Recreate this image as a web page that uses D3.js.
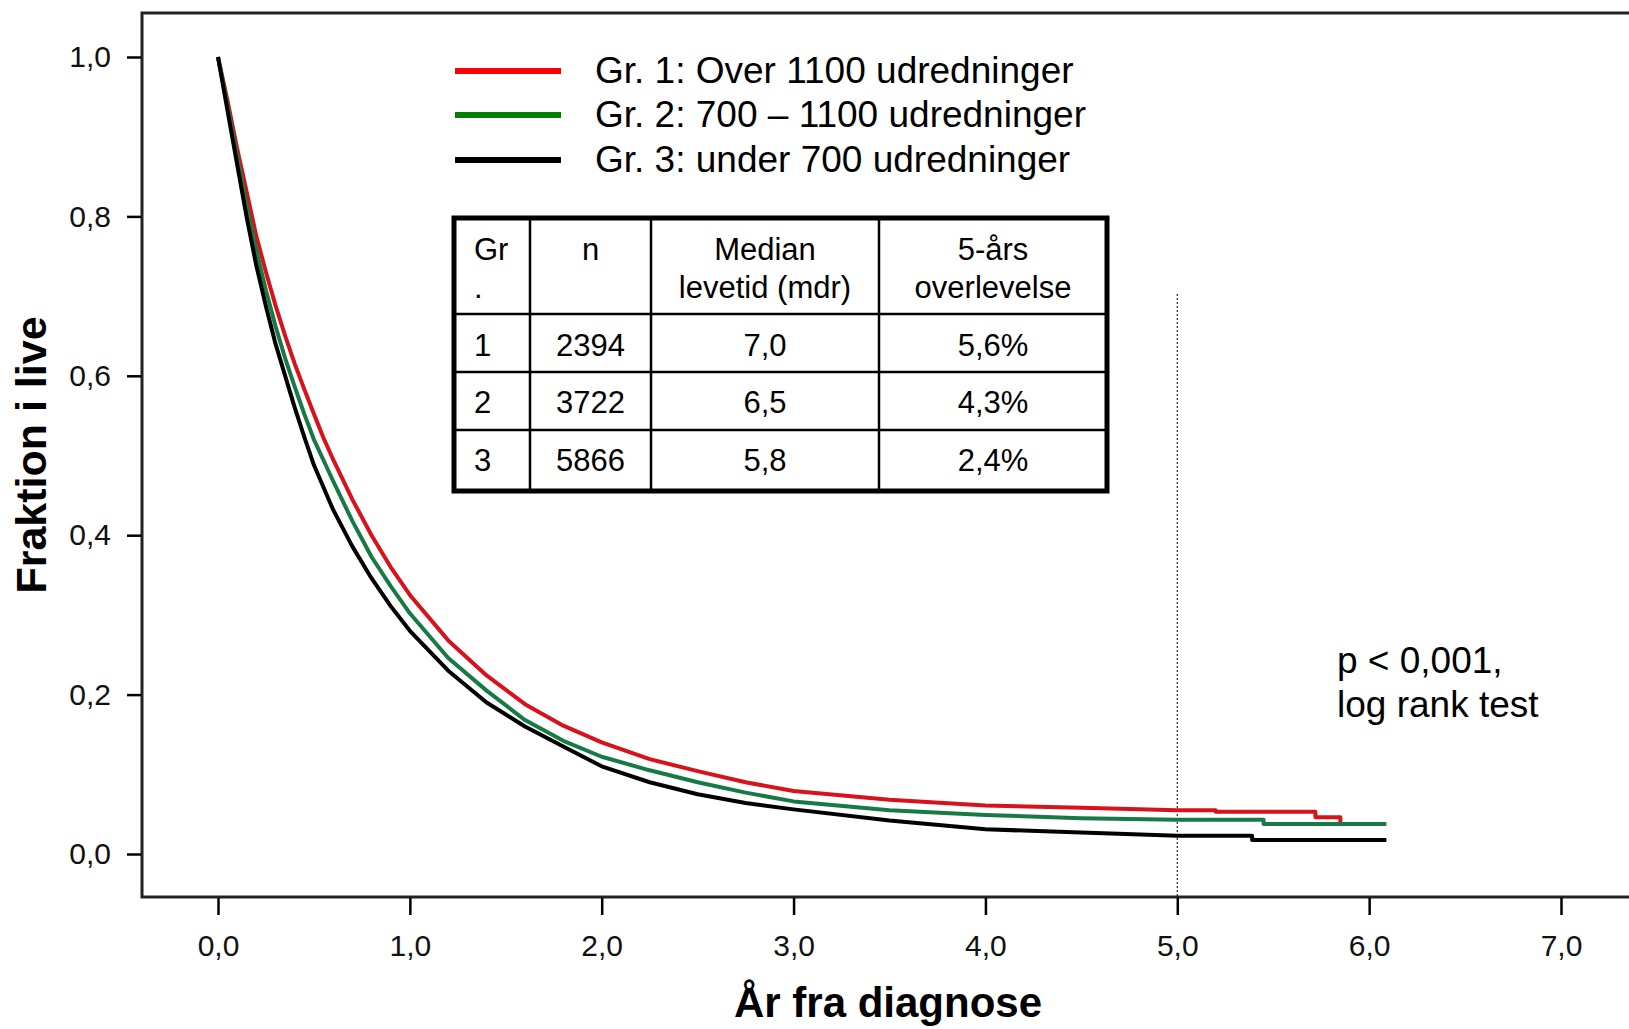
<!DOCTYPE html>
<html>
<head>
<meta charset="utf-8">
<script src="https://cdn.jsdelivr.net/npm/d3@7"></script>
<style>
  body { margin: 0; background: #fff; }
  text { font-family: "Liberation Sans", Arial, sans-serif; }
</style>
</head>
<body>
<div id="chart"></div>
<script>
// Data
const years = [0, 1, 2, 3, 4, 5, 6, 7];
const fractions = [0, 0.2, 0.4, 0.6, 0.8, 1.0];

const groupNames = ["Gr. 1: Over 1100 udredninger", "Gr. 2: 700 \u2013 1100 udredninger", "Gr. 3: under 700 udredninger"];

// [years, fraction alive]
const gr1 = [[0,1],[0.05,0.945],[0.1,0.885],[0.15,0.83],[0.2,0.775],[0.25,0.73],[0.3,0.688],[0.35,0.65],[0.4,0.615],[0.45,0.583],[0.5,0.552],[0.55,0.522],[0.6,0.495],[0.7,0.445],[0.8,0.4],[0.9,0.36],[1.0,0.325],[1.2,0.268],[1.4,0.224],[1.6,0.188],[1.8,0.161],[2.0,0.14],[2.25,0.119],[2.5,0.104],[2.75,0.09],[3.0,0.079],[3.5,0.068],[4.0,0.061],[4.5,0.058],[5.0,0.055],[5.2,0.055],[5.2,0.053],[5.72,0.053],[5.72,0.046],[5.85,0.046],[5.85,0.038]];
const gr2 = [[0,1],[0.05,0.938],[0.1,0.875],[0.15,0.812],[0.2,0.757],[0.25,0.707],[0.3,0.662],[0.35,0.622],[0.4,0.586],[0.45,0.552],[0.5,0.52],[0.55,0.494],[0.6,0.468],[0.7,0.418],[0.8,0.373],[0.9,0.336],[1.0,0.302],[1.2,0.246],[1.4,0.205],[1.6,0.168],[1.8,0.142],[2.0,0.122],[2.25,0.105],[2.5,0.09],[2.75,0.077],[3.0,0.066],[3.5,0.055],[4.0,0.049],[4.5,0.045],[5.0,0.043],[5.45,0.043],[5.45,0.0376],[6.09,0.0376]];
const gr3 = [[0,1],[0.05,0.932],[0.1,0.865],[0.15,0.798],[0.2,0.738],[0.25,0.687],[0.3,0.64],[0.35,0.6],[0.4,0.56],[0.45,0.523],[0.5,0.488],[0.6,0.432],[0.7,0.386],[0.8,0.346],[0.9,0.311],[1.0,0.28],[1.2,0.23],[1.4,0.19],[1.6,0.16],[1.8,0.135],[2.0,0.11],[2.25,0.09],[2.5,0.075],[2.75,0.064],[3.0,0.056],[3.5,0.042],[4.0,0.031],[4.5,0.027],[5.0,0.023],[5.39,0.023],[5.39,0.0176],[6.09,0.0176]];

// table
const tableHeader = [["Gr", "."], ["n"], ["Median", "levetid (mdr)"], ["5-års", "overlevelse"]];
const tableRows = [["1", "2394", "7,0", "5,6%"], ["2", "3722", "6,5", "4,3%"], ["3", "5866", "5,8", "2,4%"]];

const pText = ["p < 0,001,", "log rank test"];

const drawChart = () => {
  const width = 1629;
  const height = 1029;

  const svg = d3.select("#chart")
    .append("svg")
      .attr("width", width)
      .attr("height", height);

  svg.append("rect").attr("width", width).attr("height", height).attr("fill", "#fff");

  // scales
  const xScale = d3.scaleLinear().domain([0, 7]).range([218, 1561]);
  const yScale = d3.scaleLinear().domain([0, 1]).range([854, 57]);
  const fmt = d => d3.format(".1f")(d).replace(".", ",");

  // frame
  const frameLeft = 142, frameTop = 13, frameBottom = 897;
  svg.append("path")
    .attr("d", `M${width},${frameTop}H${frameLeft}V${frameBottom}H${width}`)
    .attr("fill", "none")
    .attr("stroke", "#222")
    .attr("stroke-width", 3);

  // left axis
  const leftAxis = d3.axisLeft(yScale).tickValues(fractions).tickFormat(fmt).tickSize(14).tickPadding(16);
  const gy = svg.append("g")
    .attr("transform", `translate(${frameLeft - 1}, 0)`)
    .call(leftAxis);
  gy.select(".domain").remove();
  gy.selectAll(".tick line").attr("stroke", "#000").attr("stroke-width", 2.5);
  gy.selectAll(".tick text").attr("font-size", 30).attr("font-family", "Liberation Sans, Arial, sans-serif").attr("fill", "#111");

  // bottom axis
  const bottomAxis = d3.axisBottom(xScale).tickValues(years).tickFormat(fmt).tickSize(17).tickPadding(20);
  const gx = svg.append("g")
    .attr("transform", `translate(0, ${frameBottom + 1})`)
    .call(bottomAxis);
  gx.select(".domain").remove();
  gx.selectAll(".tick line").attr("stroke", "#000").attr("stroke-width", 2.5);
  gx.selectAll(".tick text").attr("font-size", 30).attr("font-family", "Liberation Sans, Arial, sans-serif").attr("fill", "#111");

  // axis titles
  svg.append("text")
    .attr("x", 888).attr("y", 1017)
    .attr("text-anchor", "middle")
    .attr("font-size", 42).attr("font-weight", "bold")
    .text("År fra diagnose");
  svg.append("text")
    .attr("transform", "translate(46, 455) rotate(-90)")
    .attr("text-anchor", "middle")
    .attr("font-size", 43).attr("font-weight", "bold")
    .text("Fraktion i live");

  // 5-year reference line
  svg.append("line")
    .attr("x1", xScale(5)).attr("x2", xScale(5))
    .attr("y1", 294).attr("y2", frameBottom)
    .attr("stroke", "#222").attr("stroke-width", 1.2)
    .attr("stroke-dasharray", "2,2");

  // survival curves
  const line = d3.line().x(d => xScale(d[0])).y(d => yScale(d[1]));
  const curveColors = ["#d8121b", "#177a45", "#000"];
  [gr1, gr2, gr3].forEach((series, i) => {
    svg.append("path")
      .datum(series)
      .attr("d", line)
      .attr("fill", "none")
      .attr("stroke", curveColors[i])
      .attr("stroke-width", 4)
      .attr("stroke-linejoin", "round");
  });

  // legend
  const legendColors = ["#ff0000", "#008000", "#000"];
  const legendY = [71, 115, 160];
  groupNames.forEach((name, i) => {
    svg.append("line")
      .attr("x1", 455).attr("x2", 561)
      .attr("y1", legendY[i]).attr("y2", legendY[i])
      .attr("stroke", legendColors[i]).attr("stroke-width", 6);
    svg.append("text")
      .attr("x", 595).attr("y", legendY[i] + 12)
      .attr("font-size", 37).attr("fill", "#000")
      .text(name);
  });

  // table
  const colX = [454, 530, 651, 879, 1107];
  const rowY = [218, 314, 372, 430, 491];
  const table = svg.append("g");
  colX.slice(1, -1).forEach(x => table.append("line").attr("x1", x).attr("x2", x).attr("y1", rowY[0]).attr("y2", rowY[4]).attr("stroke", "#000").attr("stroke-width", 2.5));
  rowY.slice(1, -1).forEach(y => table.append("line").attr("x1", colX[0]).attr("x2", colX[4]).attr("y1", y).attr("y2", y).attr("stroke", "#000").attr("stroke-width", 2.5));
  table.append("rect")
    .attr("x", colX[0]).attr("y", rowY[0])
    .attr("width", colX[4] - colX[0]).attr("height", rowY[4] - rowY[0])
    .attr("fill", "none").attr("stroke", "#000").attr("stroke-width", 5);

  const cellX = (j) => j === 0 ? colX[0] + 20 : (colX[j] + colX[j + 1]) / 2;
  const anchor = (j) => j === 0 ? "start" : "middle";
  tableHeader.forEach((lines, j) => {
    lines.forEach((t, k) => {
      table.append("text")
        .attr("x", cellX(j)).attr("y", 260 + k * 38)
        .attr("text-anchor", anchor(j))
        .attr("font-size", 31)
        .text(t);
    });
  });
  const rowBase = [356, 413, 471];
  tableRows.forEach((row, r) => {
    row.forEach((t, j) => {
      table.append("text")
        .attr("x", cellX(j)).attr("y", rowBase[r])
        .attr("text-anchor", anchor(j))
        .attr("font-size", 31)
        .text(t);
    });
  });

  // log rank annotation
  pText.forEach((t, i) => {
    svg.append("text")
      .attr("x", 1337).attr("y", 673 + i * 44)
      .attr("font-size", 37)
      .text(t);
  });
};

drawChart();
</script>
</body>
</html>
